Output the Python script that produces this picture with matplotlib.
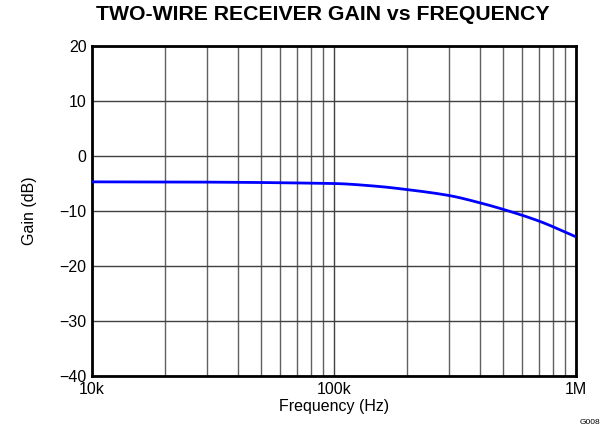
import matplotlib
matplotlib.use("Agg")
import matplotlib.pyplot as plt
import numpy as np
from matplotlib.ticker import FixedLocator, NullFormatter

plt.rcParams['font.family'] = ['Liberation Sans', 'DejaVu Sans']

freq_hz = [10e3, 20e3, 30e3, 50e3, 70e3, 100e3, 150e3, 200e3, 300e3, 400e3, 500e3, 700e3, 1e6]
gain_db = [-4.7, -4.72, -4.75, -4.82, -4.9, -5.0, -5.5, -6.1, -7.2, -8.5, -9.7, -11.8, -14.7]

x_ticks = [1e4, 1e5, 1e6]
x_labels = ['10k', '100k', '1M']
y_ticks = [-40, -30, -20, -10, 0, 10, 20]
y_labels = ['\u221240', '\u221230', '\u221220', '\u221210', '0', '10', '20']


def pchip(x, y, xs):
    x = np.asarray(x, float); y = np.asarray(y, float)
    h = np.diff(x); d = np.diff(y) / h
    n = len(x); m = np.zeros(n)
    for k in range(1, n - 1):
        if d[k - 1] * d[k] > 0:
            w1 = 2 * h[k] + h[k - 1]; w2 = h[k] + 2 * h[k - 1]
            m[k] = (w1 + w2) / (w1 / d[k - 1] + w2 / d[k])
    m[0] = d[0]; m[-1] = d[-1]
    idx = np.clip(np.searchsorted(x, xs) - 1, 0, n - 2)
    t = (xs - x[idx]) / h[idx]
    h00 = 2 * t**3 - 3 * t**2 + 1; h10 = t**3 - 2 * t**2 + t
    h01 = -2 * t**3 + 3 * t**2; h11 = t**3 - t**2
    return h00 * y[idx] + h10 * h[idx] * m[idx] + h01 * y[idx + 1] + h11 * h[idx] * m[idx + 1]


fig = plt.figure(figsize=(6.09, 4.30), dpi=100)
ax = fig.add_axes([92/609, 1-376/430, (576-92)/609, (376-46)/430])

lf = np.log10(freq_hz)
xs = np.linspace(lf[0], lf[-1], 400)
ys = pchip(lf, gain_db, xs)
ax.plot(10**xs, ys, color='#0000ff', lw=2.0, zorder=3)

ax.set_xscale('log')
ax.set_xlim(1e4, 1e6)
ax.set_ylim(-40, 20)
ax.set_xticks(x_ticks)
ax.set_xticklabels(x_labels)
minor = [m * 10**e for e in (4, 5) for m in range(2, 10)]
ax.xaxis.set_minor_locator(FixedLocator(minor))
ax.xaxis.set_minor_formatter(NullFormatter())
ax.set_yticks(y_ticks)
ax.set_yticklabels(y_labels)
ax.grid(True, which='major', color='#404040', lw=1.0)
ax.grid(True, which='minor', axis='x', color='#606060', lw=1.0)
ax.tick_params(which='both', length=0, labelsize=11.5, pad=4)
for s in ax.spines.values():
    s.set_linewidth(2.0)
    s.set_color('black')

ax.set_xlabel('Frequency (Hz)', fontsize=11.5, labelpad=2)
ax.set_ylabel('Gain (dB)', fontsize=11.5, labelpad=16)
fig.text(323/609, 1-15/430, 'TWO-WIRE RECEIVER GAIN vs FREQUENCY', fontsize=15.3,
         fontweight='bold', ha='center', va='center')
fig.text(590/609, 1-422/430, 'G008', fontsize=6, ha='center', va='center')

fig.savefig('out.png', dpi=100)
